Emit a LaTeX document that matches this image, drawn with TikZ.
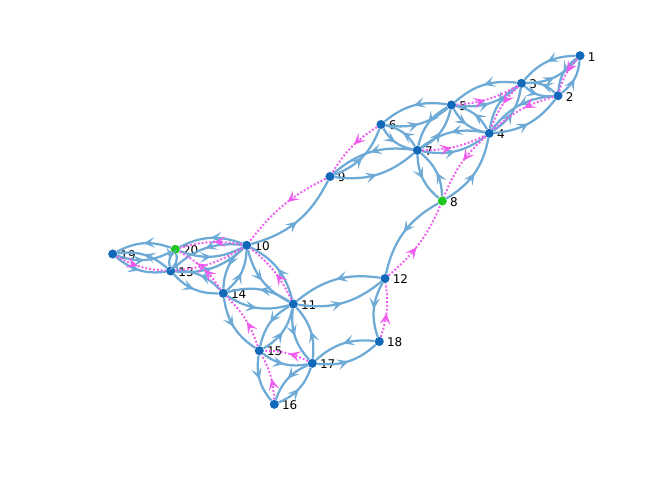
\documentclass[tikz,border=0pt]{standalone}
\usepackage{fontspec}
\setmainfont{DejaVu Sans}
\usetikzlibrary{arrows.meta,decorations.markings}
\definecolor{edgeblue}{RGB}{110,170,214}
\definecolor{pathpink}{RGB}{240,92,240}
\definecolor{nodeblue}{RGB}{18,105,186}
\definecolor{nodegreen}{RGB}{30,200,30}
\tikzset{
  nd/.style={circle, fill=nodeblue, draw=none, minimum size=6.8pt, inner sep=0pt},
  ndg/.style={circle, fill=nodegreen, draw=none, minimum size=6.8pt, inner sep=0pt},
  lbl/.style={anchor=west, inner sep=0pt, font=\fontsize{9}{10}\selectfont},
  bl/.style={draw=edgeblue, line width=1.7pt, postaction={decorate},
    decoration={markings, mark=at position 0.5 with {\arrow[edgeblue]{Stealth[length=8.5pt,width=8pt,inset=3.8pt]}}}},
  pk/.style={draw=pathpink, line width=1.5pt, dash pattern=on 1.4pt off 1.5pt, postaction={decorate},
    decoration={markings, mark=at position 0.45 with {\arrow[pathpink,solid]{Stealth[length=8.5pt,width=8pt,inset=3.8pt]}}}}
}
\newcommand{\vtx}[4]{\node[#4] (n#1) at (#2,#3) {}; \node[lbl] (l#1) at ([shift={(7.5,1)}]n#1.center) {#1};}
\begin{document}
\begin{tikzpicture}[x=0.75pt,y=-0.75pt]
\useasboundingbox (0,0) rectangle (657,485);
\vtx{1}{580}{55.7}{nd}
\vtx{2}{558}{95.7}{nd}
\vtx{3}{521.5}{83.3}{nd}
\vtx{4}{489.3}{133.3}{nd}
\vtx{5}{451.5}{105}{nd}
\vtx{6}{381}{124.5}{nd}
\vtx{7}{417.3}{150.3}{nd}
\vtx{8}{442.3}{201}{ndg}
\vtx{9}{330}{176.5}{nd}
\vtx{10}{246.7}{245.3}{nd}
\vtx{11}{293.3}{304}{nd}
\vtx{12}{385}{278.5}{nd}
\vtx{13}{170.7}{271}{nd}
\vtx{14}{223.3}{293.3}{nd}
\vtx{15}{259.3}{350.7}{nd}
\vtx{16}{274.3}{404.3}{nd}
\vtx{17}{312.3}{363.3}{nd}
\vtx{18}{379.3}{341.5}{nd}
\vtx{19}{112.7}{254}{nd}
\vtx{20}{175.3}{249.3}{ndg}
\begin{scope}[on background layer/.try]
\foreach \a/\b in {1/3,1/2,2/3,3/5,3/4,2/4,4/5,5/6,5/7,6/7,4/7,7/8,7/9,10/20,10/13,10/14,10/11,19/20,19/13,20/13,13/14,14/11,11/15,11/17,11/12,18/17,16/17}{
  \draw[bl] (n\a) to[bend right=24] (n\b);
  \draw[bl] (n\b) to[bend right=24] (n\a);
}
\foreach \a/\b in {10/9,8/12,8/4,12/18,15/17,15/16,14/15,9/6}{
  \draw[bl] (n\a) to[bend right=24] (n\b);
}
\foreach \a/\b in {1/2,2/4,3/4,5/3,7/4,4/8,12/8,18/12,6/9,9/10,10/20,13/10,14/20,19/13,11/10,15/14,17/15,16/15}{
  \draw[pk] (n\a) to[bend right=13] (n\b);
}
\end{scope}
\end{tikzpicture}
\end{document}
